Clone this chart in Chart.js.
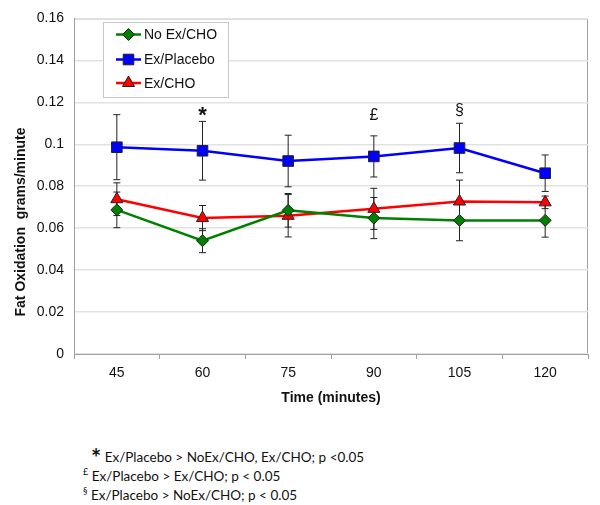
<!DOCTYPE html>
<html>
<head>
<meta charset="utf-8">
<script src="https://cdn.jsdelivr.net/npm/chart.js@4"></script>
<style>
  body { margin: 0; background: #fff; }
  #wrap { position: relative; width: 600px; height: 505px; }
  #box { position: absolute; left: 0; top: 0; width: 600px; height: 420px; }
  .note { position: absolute; font-family: Lato, "Open Sans", sans-serif; font-size: 13.5px; color: #111; white-space: nowrap; }
  .note sup { font-size: 9px; }
</style>
</head>
<body>
<div id="wrap">
  <div id="box"><canvas id="fatChart"></canvas></div>
  <div class="note" style="left:91px; top:438px;"><span style="font-size:24px; position:relative; top:5px; font-weight:bold;">*</span> Ex/Placebo &gt; NoEx/CHO, Ex/CHO; p &lt;0.05</div>
  <div class="note" style="left:83px; top:466px;"><sup>£</sup> Ex/Placebo &gt; Ex/CHO; p &lt; 0.05</div>
  <div class="note" style="left:83px; top:485px;"><sup>§</sup> Ex/Placebo &gt; NoEx/CHO; p &lt; 0.05</div>
</div>
<script>
const times = ['45', '60', '75', '90', '105', '120'];
const noExCho = [0.0687, 0.054, 0.0685, 0.0648, 0.0637, 0.0637];
const exPlacebo = [0.0986, 0.0969, 0.092, 0.0942, 0.0982, 0.0862];
const exCho = [0.0738, 0.0648, 0.0659, 0.0692, 0.0727, 0.0723];
const noExChoErr = [0.0085, 0.0057, 0.008, 0.0098, 0.0097, 0.008];
const exPlaceboErr = [0.0155, 0.014, 0.0123, 0.0098, 0.0118, 0.0087];
const exChoErr = [0.0078, 0.006, 0.0101, 0.0098, 0.0102, 0.003];
const sigMarks = ['', '*', '', '£', '§', ''];
const yTicks = [0, 0.02, 0.04, 0.06, 0.08, 0.1, 0.12, 0.14, 0.16];

const errors = [noExChoErr, exPlaceboErr, exChoErr];

// error bars, drawn under the lines
const errorBars = {
    id: 'errorBars',
    beforeDatasetsDraw(chart) {
        const ctx = chart.ctx;
        const y = chart.scales.y;
        ctx.save();
        ctx.strokeStyle = '#222';
        ctx.lineWidth = 1;
        chart.data.datasets.forEach((ds, d) => {
            const meta = chart.getDatasetMeta(d);
            meta.data.forEach((pt, i) => {
                const v = ds.data[i], e = errors[d][i];
                const top = y.getPixelForValue(v + e);
                const bot = y.getPixelForValue(v - e);
                ctx.beginPath();
                ctx.moveTo(pt.x, top); ctx.lineTo(pt.x, bot);
                ctx.moveTo(pt.x - 3.5, top); ctx.lineTo(pt.x + 3.5, top);
                ctx.moveTo(pt.x - 3.5, bot); ctx.lineTo(pt.x + 3.5, bot);
                ctx.stroke();
            });
        });
        ctx.restore();
    }
};

const extras = {
    id: 'extras',
    beforeDraw(chart) {
        const ctx = chart.ctx;
        const a = chart.chartArea;
        ctx.save();
        ctx.strokeStyle = '#a0a0a0';
        ctx.lineWidth = 1;
        ctx.strokeRect(a.left + 0.5, a.top + 0.5, a.right - a.left - 1, a.bottom - a.top);
        ctx.restore();
    },
    afterDraw(chart) {
        const ctx = chart.ctx;
        const x = chart.scales.x;
        const y = chart.scales.y;
        ctx.save();
        // y title
        ctx.font = 'bold 14px "Liberation Sans", Arial, sans-serif';
        ctx.fillStyle = '#111';
        ctx.textAlign = 'center';
        ctx.textBaseline = 'middle';
        ctx.translate(21, 222);
        ctx.rotate(-Math.PI / 2);
        ctx.fillText('Fat Oxidation  grams/minute', 0, 0);
        ctx.restore();

        // significance marks
        ctx.save();
        ctx.fillStyle = '#111';
        ctx.textAlign = 'center';
        ctx.textBaseline = 'middle';
        sigMarks.forEach((m, i) => {
            if (!m) return;
            const px = x.getPixelForValue(i);
            const py = y.getPixelForValue(0.114);
            if (m === '*') {
                ctx.font = 'bold 22px "Liberation Sans", Arial, sans-serif';
                ctx.fillText(m, px, py + 1);
            } else {
                ctx.font = '16px "Liberation Sans", Arial, sans-serif';
                ctx.fillText(m, px, py + (m === '§' ? -4 : 1));
            }
        });
        ctx.restore();

        // legend box
        ctx.save();
        ctx.fillStyle = '#fff';
        ctx.fillRect(103, 22, 126, 76);
        ctx.strokeStyle = '#c8c8c8';
        ctx.lineWidth = 1;
        ctx.strokeRect(103.5, 22.5, 125, 75);
        const rows = [34.5, 59.5, 83];
        chart.data.datasets.forEach((ds, d) => {
            const ry = rows[d];
            ctx.strokeStyle = ds.borderColor;
            ctx.lineWidth = 2.5;
            ctx.beginPath();
            ctx.moveTo(116, ry); ctx.lineTo(141, ry);
            ctx.stroke();
            ctx.fillStyle = ds.pointBackgroundColor;
            ctx.strokeStyle = '#222';
            ctx.lineWidth = 1;
            Chart.helpers.drawPoint(ctx, { pointStyle: ds.pointStyle, radius: ds.pointRadius, borderWidth: 1, rotation: 0 }, 128.5, ry);
            ctx.fillStyle = '#111';
            ctx.font = '14px "Liberation Sans", Arial, sans-serif';
            ctx.textAlign = 'left';
            ctx.textBaseline = 'middle';
            ctx.fillText(ds.label, 144, ry + 1);
        });
        ctx.restore();
    }
};

const ctx = document.getElementById('fatChart').getContext('2d');
new Chart(ctx, {
    type: 'line',
    data: {
        labels: times,
        datasets: [
            {
                label: 'No Ex/CHO',
                data: noExCho,
                borderColor: '#008000',
                pointBackgroundColor: '#008000',
                pointStyle: 'rectRot',
                pointRadius: 6
            },
            {
                label: 'Ex/Placebo',
                data: exPlacebo,
                borderColor: '#0000ff',
                pointBackgroundColor: '#0000ff',
                pointStyle: 'rect',
                pointRadius: 7.5
            },
            {
                label: 'Ex/CHO',
                data: exCho,
                borderColor: '#ff0000',
                pointBackgroundColor: '#ff0000',
                pointStyle: 'triangle',
                pointRadius: 7
            }
        ].map(ds => Object.assign(ds, {
            borderWidth: 2.5,
            tension: 0,
            pointBorderColor: '#222',
            pointBorderWidth: 1
        }))
    },
    options: {
        responsive: true,
        maintainAspectRatio: false,
        animation: false,
        layout: { padding: { left: 0, right: 12, top: 15, bottom: 0 } },
        plugins: {
            legend: { display: false },
            tooltip: { enabled: false }
        },
        scales: {
            x: {
                offset: true,
                grid: { offset: true, drawOnChartArea: false, tickLength: 5, color: '#a0a0a0' },
                border: { color: '#a0a0a0' },
                ticks: { color: '#111', padding: 6, font: { size: 14, family: '"Liberation Sans", Arial, sans-serif' } },
                title: {
                    display: true,
                    text: 'Time (minutes)',
                    color: '#111',
                    padding: { top: 0, bottom: 13 },
                    font: { size: 14, weight: 'bold', family: '"Liberation Sans", Arial, sans-serif' }
                },
                afterFit(scale) { scale.height = 66; }
            },
            y: {
                min: 0,
                max: 0.16,
                afterBuildTicks(scale) { scale.ticks = yTicks.map(v => ({ value: v })); },
                grid: { color: '#e2e2e2', lineWidth: 1.5, drawTicks: false },
                border: { color: '#a0a0a0' },
                ticks: {
                    color: '#111',
                    padding: 10,
                    font: { size: 14, family: '"Liberation Sans", Arial, sans-serif' },
                    callback: v => String(Number(v.toFixed(2)))
                },
                afterFit(scale) { scale.width = 74; }
            }
        }
    },
    plugins: [errorBars, extras]
});
</script>
</body>
</html>
